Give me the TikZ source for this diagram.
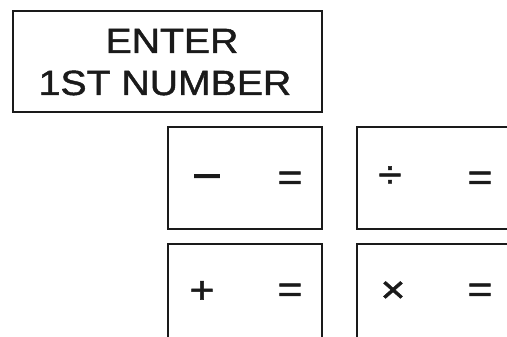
\documentclass[tikz,border=0pt]{standalone}
\usepackage{fontspec}
\setmainfont{Liberation Sans}
\newfontfamily\keyfont{Liberation Sans}[FakeStretch=1.12,FakeBold=1.3]
\usetikzlibrary{positioning}
\definecolor{ink}{HTML}{1A1A1A}
\tikzset{
  panel/.style={draw=ink,line width=1.8pt,minimum width=309pt,minimum height=101pt,inner sep=0pt},
  key/.style={draw=ink,line width=1.8pt,minimum width=154pt,minimum height=102pt,inner sep=0pt},
  widekey/.style={key,minimum width=200pt},
  title/.style={font=\keyfont\fontsize{35}{42}\selectfont,text=ink,anchor=base,inner sep=0pt},
  sym/.style={font=\keyfont\fontsize{38}{44}\selectfont,text=ink,inner sep=0pt}
}

\begin{document}
\begin{tikzpicture}[x=1pt,y=-1pt]
  \useasboundingbox (0,0) rectangle (507,337);
  \clip (0,0) rectangle (507,337);
  \fill[white] (0,0) rectangle (507,337);

  \node[panel] (prompt) at (167.5,61.5) {};
  \node[title] (enter) at (172,53) {ENTER};
  \node[title] (first) at (165,95) {1ST NUMBER};

  \node[key] (minus) at (245,178) {};
  \node[widekey] (divide) at (457,178) {};
  \node[key] (plus) at (245,295) {};
  \node[widekey] (times) at (457,295) {};

  % operator on the left of each key, equals sign on the right
  \node[sym,font=\keyfont\fontsize{46}{50}\selectfont] (minus-op) at (207,183) {−};
  \node[sym] (minus-eq) at (290,181) {=};
  \node[sym] (divide-op) at (390,177) {÷};
  \node[sym] (divide-eq) at (480,181) {=};
  \node[sym] (plus-op) at (202,292) {+};
  \node[sym] (plus-eq) at (290,293) {=};
  \node[sym] (times-op) at (393,292) {×};
  \node[sym] (times-eq) at (480,293) {=};
\end{tikzpicture}
\end{document}
